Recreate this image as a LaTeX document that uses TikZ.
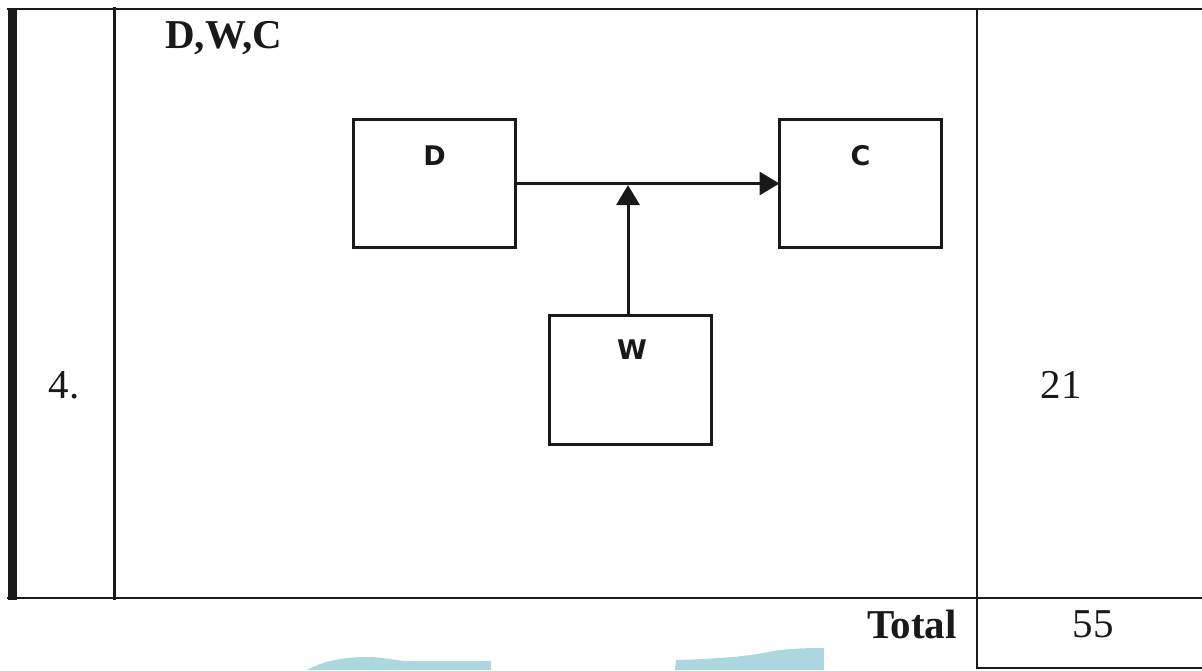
\documentclass[tikz,border=0pt]{standalone}
\usepackage{fontspec}
\setmainfont{Liberation Serif}
\newfontfamily\boxfont{DejaVu Sans}
\usetikzlibrary{arrows.meta}
\definecolor{wm}{RGB}{172,214,224}
\tikzset{
  rule/.style={draw=black!90, line cap=rect},
  blk/.style={draw=black!90, line width=3pt, minimum width=162pt, minimum height=128pt, inner sep=0pt, outer sep=0pt},
  blklbl/.style={font=\boxfont\bfseries\fontsize{27}{30}\selectfont, inner sep=0pt, text=black!90},
  cell/.style={font=\fontsize{41}{48}\selectfont, inner sep=0pt, text=black!90},
  arr/.style={draw=black!90, line width=3pt, -{Triangle[length=20pt,width=23pt]}}
}
\begin{document}
\begin{tikzpicture}[x=1pt,y=-1pt]
\useasboundingbox (0,0) rectangle (1202,670);
% watermark shapes
\fill[wm] (307,670) .. controls (325,660) and (345,657) .. (368,657) .. controls (385,657) and (395,661) .. (410,661) -- (491,661) -- (491,670) -- cycle;
\fill[wm] (675,670) -- (676,660) .. controls (710,659) and (745,657) .. (768,652) .. controls (785,649) and (800,648) .. (824,648) -- (824,670) -- cycle;
% table rules
\coordinate (tl) at (8,9);
\coordinate (tr) at (1202,9);
\coordinate (bl) at (8,598);
\coordinate (br) at (1202,598);
\coordinate (c1t) at (114.5,9);
\coordinate (c1b) at (114.5,598);
\coordinate (c2t) at (977,9);
\coordinate (c2b) at (977,668);
\coordinate (tb) at (1202,668);
\draw[rule, line width=2.5pt] (tl) -- (tr);
\draw[rule, line width=2.5pt] (bl) -- (br);
\fill[black!90] (8,8) rectangle (16.5,599.5);
\draw[rule, line width=3.5pt] (c1t) -- (c1b);
\draw[rule, line width=2.5pt] (c2t) -- (c2b);
\draw[rule, line width=2.5pt] (c2b) -- (tb);
% cell texts
\node[cell, anchor=base west, font=\bfseries\fontsize{41}{48}\selectfont] (title) at (165,48) {D,W,C};
\node[cell, anchor=base] (num) at (64,398) {4.};
\node[cell, anchor=base] (pts) at (1061,398) {21};
\node[cell, anchor=base east, font=\bfseries\fontsize{41}{48}\selectfont] (total) at (957,638) {Total};
\node[cell, anchor=base] (sum) at (1093,637) {55};
% diagram
\node[blk] (D) at (434.5,183.5) {};
\node[blk] (C) at (860.5,183.5) {};
\node[blk, minimum height=129pt] (W) at (630.5,380) {};
\node[blklbl] (Dl) at (434.5,156) {D};
\node[blklbl] (Cl) at (860.5,156) {C};
\node[blklbl] (Wl) at (632,350) {W};
\coordinate (J) at (628,185);
\draw[arr] (D.east) -- (C.west);
\draw[arr] (J |- W.north) -- (J);
\end{tikzpicture}
\end{document}
